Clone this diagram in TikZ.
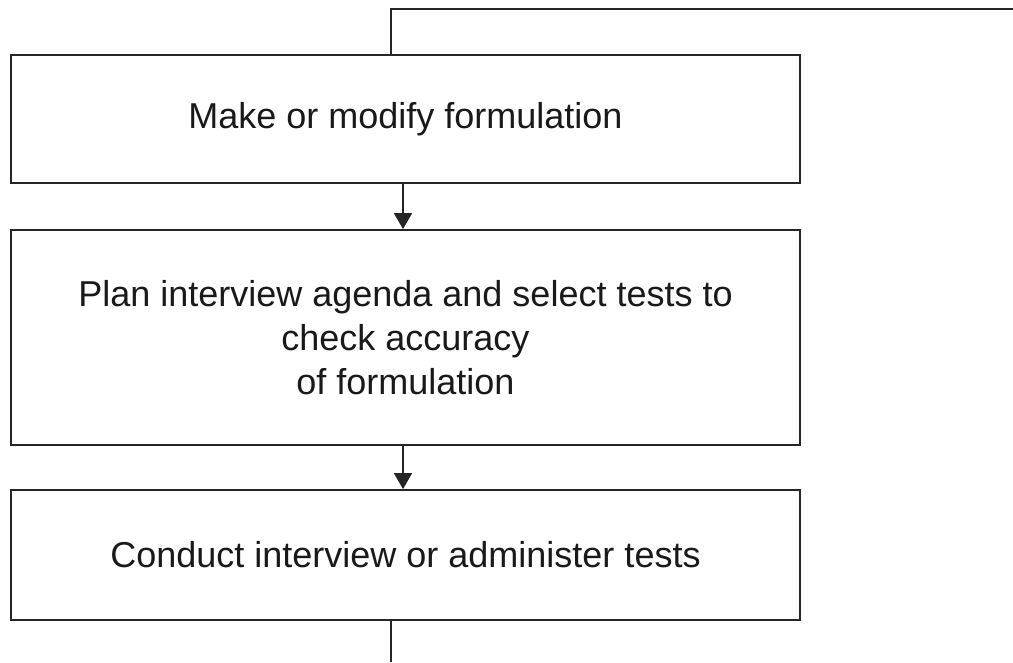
\documentclass[tikz,border=0pt]{standalone}
\usepackage{fontspec}
\setmainfont{Liberation Sans}
\usetikzlibrary{arrows.meta}
\begin{document}
\begin{tikzpicture}[x=1pt,y=-1pt,
  line width=1.8pt,
  stagebox/.style={draw=black!85, rectangle, inner sep=0pt, minimum width=789pt,
    align=center, font=\fontsize{36}{44}\selectfont, text=black!90},
  flow/.style={draw=black!85, -{Triangle[length=16pt,width=18pt]}},
  link/.style={draw=black!85}]
  \useasboundingbox (0,0) rectangle (1013,662);

  % the three stages of the cycle
  \node[stagebox, minimum height=128pt] (b1) at (405.5,119) {Make or modify formulation};
  \node[stagebox, minimum height=215pt] (b2) at (405.5,337.5)
    {Plan interview agenda and select tests to\\check accuracy\\of formulation};
  \node[stagebox, minimum height=130pt] (b3) at (405.5,555) {Conduct interview or administer tests};

  % columns for the arrows and the loop line
  \coordinate (ax) at (403,0);
  \coordinate (tl) at (391,9);
  \coordinate (tr) at (1013,9);
  \coordinate (bot) at (391,662);

  % downward arrows between stages
  \draw[flow] (b1.south -| ax) -- (b2.north -| ax);
  \draw[flow] (b2.south -| ax) -- (b3.north -| ax);

  % loop line leaving the top and the bottom
  \draw[link] (b1.north -| tl) -- (tl) -- (tr);
  \draw[link] (b3.south -| bot) -- (bot);
\end{tikzpicture}
\end{document}
